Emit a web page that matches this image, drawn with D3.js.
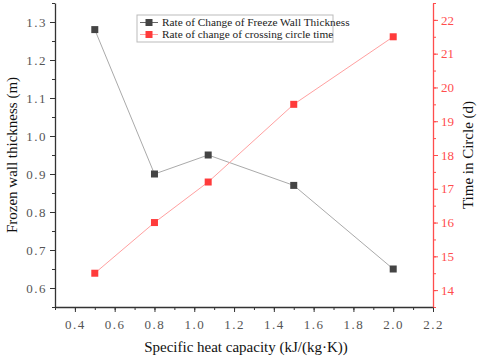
<!DOCTYPE html>
<html>
<head>
<meta charset="utf-8">
<script src="https://cdn.jsdelivr.net/npm/d3@7"></script>
<style>
  body { margin: 0; background: #fff; }
  svg text { font-family: "Liberation Serif", "DejaVu Serif", serif; }
</style>
</head>
<body>
<div id="chart"></div>
<script>
const heatCapacity = [0.5, 0.8, 1.07, 1.5, 2.0];
const wallThickness = [1.28, 0.90, 0.95, 0.87, 0.65];
const circleTime = [14.5, 16.0, 17.2, 19.5, 21.5];
const xTicks = [0.4, 0.6, 0.8, 1.0, 1.2, 1.4, 1.6, 1.8, 2.0, 2.2];
const leftTicks = [0.6, 0.7, 0.8, 0.9, 1.0, 1.1, 1.2, 1.3];
const rightTicks = [14, 15, 16, 17, 18, 19, 20, 21, 22];
const seriesNames = ["Rate of Change of Freeze Wall Thickness", "Rate of change of crossing circle time"];

const width = 480, height = 358;
const margin = { top: 3, right: 47, bottom: 51, left: 55 };
const red = "#ff4d4d";
const serif = "'Liberation Serif', 'DejaVu Serif', serif";

const svg = d3.select("#chart").append("svg")
    .attr("width", width)
    .attr("height", height);

const x = d3.scaleLinear().domain([0.3, 2.2]).range([margin.left, width - margin.right]);
const yL = d3.scaleLinear().domain([0.55, 1.35]).range([height - margin.bottom, margin.top]);
const yR = d3.scaleLinear().domain([13.5, 22.5]).range([height - margin.bottom, margin.top]);

const fmt = d3.format(".1f");

// minor ticks first
const xMinor = d3.range(0.3, 2.21, 0.1).map(v => +v.toFixed(2));
svg.append("g")
    .attr("transform", `translate(0,${height - margin.bottom})`)
    .call(d3.axisBottom(x).tickValues(xMinor).tickSize(3).tickFormat(""))
    .call(g => g.select(".domain").remove())
    .call(g => g.selectAll("line").attr("stroke", "#333"));
svg.append("g")
    .attr("transform", `translate(${margin.left},0)`)
    .call(d3.axisLeft(yL).tickValues(d3.range(0.55, 1.36, 0.05).map(v => +v.toFixed(2))).tickSize(3).tickFormat(""))
    .call(g => g.select(".domain").remove())
    .call(g => g.selectAll("line").attr("stroke", "#333"));
svg.append("g")
    .attr("transform", `translate(${width - margin.right},0)`)
    .call(d3.axisRight(yR).tickValues(d3.range(13.5, 22.6, 0.5)).tickSize(3).tickFormat(""))
    .call(g => g.select(".domain").remove())
    .call(g => g.selectAll("line").attr("stroke", red));

// major axes
const gx = svg.append("g")
    .attr("transform", `translate(0,${height - margin.bottom})`)
    .call(d3.axisBottom(x).tickValues(xTicks).tickFormat(fmt).tickSize(5).tickSizeOuter(0));
gx.attr("font-family", serif);
gx.select(".domain").attr("stroke", "#333").attr("stroke-width", 1.3);
gx.selectAll("line").attr("stroke", "#333");
gx.selectAll("text").attr("fill", "#555").style("font-family", serif).style("font-size", "13px").attr("dy", "1.05em").style("letter-spacing", "1.5px");

const gl = svg.append("g")
    .attr("transform", `translate(${margin.left},0)`)
    .call(d3.axisLeft(yL).tickValues(leftTicks).tickFormat(fmt).tickSize(5).tickSizeOuter(0));
gl.attr("font-family", serif);
gl.select(".domain").attr("stroke", "#333").attr("stroke-width", 1.3);
gl.selectAll("line").attr("stroke", "#333");
gl.selectAll("text").attr("fill", "#555").style("font-family", serif).style("font-size", "13px").style("letter-spacing", "1.5px");

const gr = svg.append("g")
    .attr("transform", `translate(${width - margin.right},0)`)
    .call(d3.axisRight(yR).tickValues(rightTicks).tickSize(5).tickSizeOuter(0));
gr.attr("font-family", serif);
gr.select(".domain").attr("stroke", red).attr("stroke-width", 1.3);
gr.selectAll("line").attr("stroke", red);
gr.selectAll("text").attr("fill", red).style("font-family", serif).style("font-size", "13px");

// axis titles
svg.append("text")
    .attr("x", (margin.left + width - margin.right) / 2 + 2)
    .attr("y", height - 6)
    .attr("text-anchor", "middle")
    .style("font-size", "15px")
    .attr("fill", "#111")
    .text("Specific heat capacity (kJ/(kg·K))");

svg.append("text")
    .attr("transform", `translate(17,${(margin.top + height - margin.bottom) / 2}) rotate(-90)`)
    .attr("text-anchor", "middle")
    .style("font-size", "15px")
    .attr("fill", "#111")
    .text("Frozen wall thickness (m)");

svg.append("text")
    .attr("transform", `translate(473,${(margin.top + height - margin.bottom) / 2}) rotate(-90)`)
    .attr("text-anchor", "middle")
    .style("font-size", "15px")
    .attr("fill", "#111")
    .text("Time in Circle (d)");

// series
const blackPts = heatCapacity.map((v, i) => [x(v), yL(wallThickness[i])]);
const redPts = heatCapacity.map((v, i) => [x(v), yR(circleTime[i])]);

svg.append("path")
    .attr("d", d3.line()(blackPts))
    .attr("fill", "none")
    .attr("stroke", "#aaa")
    .attr("stroke-width", 1);
svg.append("path")
    .attr("d", d3.line()(redPts))
    .attr("fill", "none")
    .attr("stroke", "#ffa0a0")
    .attr("stroke-width", 1);

const ms = 7;
svg.selectAll("rect.black").data(blackPts).enter().append("rect")
    .attr("class", "black")
    .attr("x", d => d[0] - ms / 2).attr("y", d => d[1] - ms / 2)
    .attr("width", ms).attr("height", ms)
    .attr("fill", "#444");
svg.selectAll("rect.red").data(redPts).enter().append("rect")
    .attr("class", "red")
    .attr("x", d => d[0] - ms / 2).attr("y", d => d[1] - ms / 2)
    .attr("width", ms).attr("height", ms)
    .attr("fill", "#ff3b3b");

// legend
const legend = svg.append("g").attr("transform", "translate(137,15)");
legend.append("rect")
    .attr("width", 196).attr("height", 27)
    .attr("fill", "#fff")
    .attr("stroke", "#bbb");
const items = [
    { name: seriesNames[0], line: "#666", mark: "#444" },
    { name: seriesNames[1], line: "#ffa0a0", mark: "#ff3b3b" }
];
items.forEach((d, i) => {
    const gy = 7.5 + i * 12;
    legend.append("line")
        .attr("x1", 3).attr("x2", 21).attr("y1", gy).attr("y2", gy)
        .attr("stroke", d.line);
    legend.append("rect")
        .attr("x", 12 - 3.5).attr("y", gy - 3.5)
        .attr("width", 7).attr("height", 7)
        .attr("fill", d.mark);
    legend.append("text")
        .attr("x", 25).attr("y", gy + 3.5)
        .style("font-size", "11.3px")
        .attr("fill", "#222")
        .text(d.name);
});
</script>
</body>
</html>
